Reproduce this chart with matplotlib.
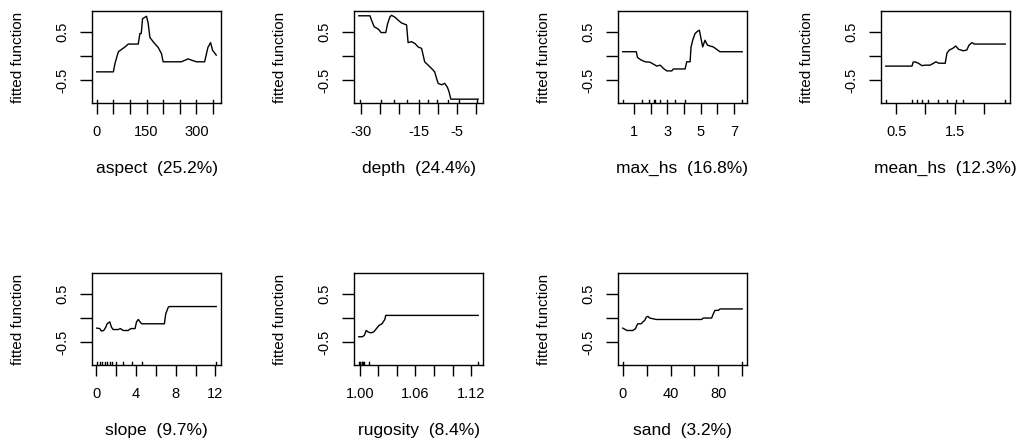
import matplotlib
matplotlib.use("Agg")
import matplotlib.pyplot as plt
import matplotlib.transforms as mtransforms

plt.rcParams['font.family'] = ['Liberation Sans', 'DejaVu Sans']
plt.rcParams['font.size'] = 10.5

# partial dependence curves (x, fitted function)
aspect_x = [0, 50, 55, 65, 85, 95, 125, 130, 134, 138, 150, 155, 160, 172, 185, 195, 200, 255, 275, 300, 325, 335, 343, 349, 360]
aspect_y = [-0.33, -0.33, -0.15, 0.09, 0.19, 0.25, 0.25, 0.47, 0.47, 0.78, 0.83, 0.68, 0.39, 0.28, 0.18, 0.05, -0.12, -0.12, -0.06, -0.12, -0.12, 0.18, 0.28, 0.12, 0.02]

depth_x = [-30.5, -27.6, -27.2, -26.5, -25.4, -24.7, -23.5, -23.0, -22.4, -22.0, -21.1, -20.3, -19.4, -18.1, -17.7, -16.8, -15.9, -15.1, -14.2, -13.8, -13.4, -12.5, -11.6, -10.8, -10.3, -9.9, -9.0, -8.2, -7.5, -7.1, -6.6, 0.5]
depth_y = [0.84, 0.84, 0.75, 0.61, 0.56, 0.49, 0.49, 0.68, 0.82, 0.85, 0.81, 0.75, 0.69, 0.65, 0.28, 0.30, 0.26, 0.19, 0.16, 0.02, -0.12, -0.19, -0.26, -0.33, -0.47, -0.57, -0.60, -0.57, -0.65, -0.74, -0.90, -0.90]

maxhs_x = [0.31, 1.12, 1.2, 1.4, 1.66, 1.96, 2.16, 2.36, 2.56, 2.76, 2.96, 3.26, 3.36, 4.06, 4.16, 4.36, 4.42, 4.52, 4.66, 4.82, 4.92, 5.0, 5.12, 5.26, 5.4, 5.56, 5.76, 5.96, 6.16, 7.5]
maxhs_y = [0.09, 0.09, -0.03, -0.08, -0.12, -0.13, -0.17, -0.21, -0.19, -0.26, -0.31, -0.31, -0.27, -0.27, -0.12, -0.12, 0.19, 0.33, 0.47, 0.52, 0.54, 0.40, 0.19, 0.33, 0.23, 0.21, 0.19, 0.14, 0.09, 0.09]

meanhs_x = [0.32, 0.77, 0.79, 0.83, 0.88, 0.94, 1.0, 1.08, 1.14, 1.18, 1.23, 1.34, 1.37, 1.41, 1.47, 1.52, 1.57, 1.65, 1.71, 1.75, 1.80, 1.84, 2.37]
meanhs_y = [-0.21, -0.21, -0.125, -0.125, -0.15, -0.2, -0.19, -0.19, -0.15, -0.12, -0.15, -0.15, 0.06, 0.125, 0.16, 0.21, 0.14, 0.11, 0.125, 0.23, 0.28, 0.25, 0.25]

slope_x = [0.04, 0.34, 0.5, 0.74, 0.95, 1.08, 1.35, 1.52, 1.69, 2.2, 2.43, 2.7, 3.2, 3.48, 3.9, 4.05, 4.22, 4.56, 6.86, 7.0, 7.26, 7.43, 12.09]
slope_y = [-0.21, -0.22, -0.27, -0.26, -0.19, -0.12, -0.08, -0.19, -0.24, -0.24, -0.22, -0.26, -0.26, -0.22, -0.22, -0.08, -0.03, -0.12, -0.12, 0.09, 0.23, 0.24, 0.24]

rug_x = [0.999, 1.003, 1.005, 1.007, 1.009, 1.012, 1.015, 1.018, 1.021, 1.024, 1.027, 1.028, 1.1275]
rug_y = [-0.39, -0.39, -0.36, -0.26, -0.29, -0.31, -0.29, -0.22, -0.15, -0.12, -0.03, 0.055, 0.055]

sand_x = [0, 1.4, 3.4, 8.4, 10.7, 11.8, 12.6, 15.4, 16.9, 18.3, 19.7, 21.1, 22.5, 28, 66, 67.4, 74.4, 75.8, 77.2, 80, 81.5, 100]
sand_y = [-0.21, -0.23, -0.26, -0.26, -0.22, -0.15, -0.12, -0.12, -0.08, -0.05, 0.02, 0.035, 0.0, -0.03, -0.03, 0.0, 0.0, 0.09, 0.16, 0.16, 0.19, 0.19]

# deciles shown as rug marks
aspect_rug = [0, 50, 100, 150, 200, 250, 300, 350]
depth_rug = [-30.3, -24.7, -21.3, -17.9, -15.0, -12.5, -10.1, -7.3, -4.6, 0.3]
maxhs_rug = [0.31, 1.46, 1.9, 2.2, 2.25, 2.56, 2.96, 3.46, 4.06, 7.5]
meanhs_rug = [0.32, 0.77, 0.85, 0.94, 1.05, 1.21, 1.37, 1.52, 1.65, 2.37]
slope_rug = [0.04, 0.34, 0.6, 0.84, 1.08, 1.35, 1.62, 1.96, 2.7, 3.55, 4.56, 12.09]
rugos_rug = [0.999, 1.0, 1.002, 1.003, 1.004, 1.005, 1.0097, 1.1275]
sand_rug = [0, 100]

labels = ['aspect  (25.2%)', 'depth  (24.4%)', 'max_hs  (16.8%)', 'mean_hs  (12.3%)',
          'slope  (9.7%)', 'rugosity  (8.4%)', 'sand  (3.2%)']

xticks = [
    [0, 50, 100, 150, 200, 250, 300, 350],
    [-30, -25, -20, -15, -10, -5, 0],
    [1, 2, 3, 4, 5, 6, 7],
    [0.5, 1.0, 1.5, 2.0],
    [0, 2, 4, 6, 8, 10, 12],
    [1.00, 1.02, 1.04, 1.06, 1.08, 1.10, 1.12],
    [0, 20, 40, 60, 80, 100],
]
xticklabels = [
    ['0', '', '', '150', '', '', '300', ''],
    ['-30', '', '', '-15', '', '-5', ''],
    ['1', '', '3', '', '5', '', '7'],
    ['0.5', '', '1.5', ''],
    ['0', '', '4', '', '8', '', '12'],
    ['1.00', '', '', '1.06', '', '', '1.12'],
    ['0', '', '40', '', '80', ''],
]

curves = [(aspect_x, aspect_y), (depth_x, depth_y), (maxhs_x, maxhs_y), (meanhs_x, meanhs_y),
          (slope_x, slope_y), (rug_x, rug_y), (sand_x, sand_y)]
rugs = [aspect_rug, depth_rug, maxhs_rug, meanhs_rug, slope_rug, rugos_rug, sand_rug]

W, H = 1021, 440
fig = plt.figure(figsize=(W / 100, H / 100), dpi=100)

col_left = [92, 354, 618, 881]
box_w = 129
row_top = [11, 273]
box_h = 92

for i in range(7):
    r, c = divmod(i, 4)
    ax = fig.add_axes([col_left[c] / W, 1 - (row_top[r] + box_h) / H, box_w / W, box_h / H])
    x, y = curves[i]
    ax.plot(x, y, color='black', lw=1.0)
    trans = mtransforms.blended_transform_factory(ax.transData, ax.transAxes)
    for v in rugs[i]:
        ax.plot([v, v], [0, 0.03], color='black', lw=1.0, transform=trans)
    lo, hi = min(x), max(x)
    pad = 0.04 * (hi - lo)
    ax.set_xlim(lo - pad, hi + pad)
    ax.set_ylim(-0.98, 0.94)
    ax.set_xticks(xticks[i])
    ax.set_xticklabels(xticklabels[i])
    ax.set_yticks([-0.5, 0, 0.5])
    ax.set_yticklabels(['-0.5', '', '0.5'], rotation=90, va='center')
    ax.tick_params(axis='x', direction='out', length=8, width=1, pad=8)
    ax.tick_params(axis='y', direction='out', length=8.5, width=1, pad=8)
    for s in ax.spines.values():
        s.set_linewidth(1)
    ax.set_xlabel(labels[i], fontsize=12.5)
    ax.xaxis.set_label_coords(0.5, -0.71)
    ax.xaxis.label.set_va('center')
    ax.set_ylabel('fitted function', fontsize=11)
    ax.yaxis.set_label_coords(-0.57, 0.5)
    ax.yaxis.label.set_va('center')

fig.savefig('out.png', dpi=100)
